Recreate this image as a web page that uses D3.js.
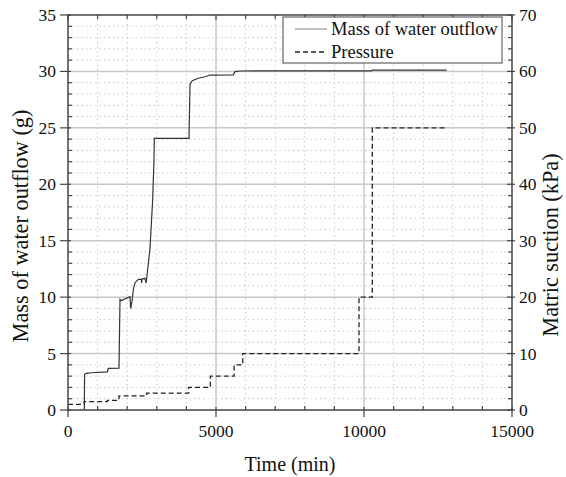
<!DOCTYPE html>
<html><head><meta charset="utf-8">
<script src="https://cdn.jsdelivr.net/npm/d3@7"></script>
<style>
body{margin:0;background:#fff;}
text{font-family:"Liberation Serif","Times New Roman",serif;fill:#111;}
</style></head>
<body><svg id="c" width="566" height="477"></svg>
<script>
const massTime  = [551,560,620,800,1330,1361,1723,1757,1800,2095,2117,2162,2207,2264,2376,2480,2490,2500,2600,2640,2660,2714,2770,2860,2905,2916,4088,4122,4200,4403,4628,4797,5585,5642,5811,6486,10250,10280,12790];
const massValue = [0,3.16,3.25,3.3,3.37,3.69,3.7,9.8,9.7,10.04,9.0,9.6,10.7,11.28,11.58,11.6,11.25,11.6,11.67,11.25,11.7,13.0,14.3,18.6,22.2,24.07,24.07,28.9,29.18,29.4,29.53,29.68,29.7,29.98,30.04,30.05,30.05,30.12,30.12];
const pressureTime  = [0,551,1330,1723,2657,4075,4810,5612,5905,9831,10280,12790];
const pressureValue = [1,1.5,1.7,2.5,3,4,6,8,10,20,50,50];
const xTicks = [0,5000,10000,15000];
const yLeftTicks = [0,5,10,15,20,25,30,35];
const yRightTicks = [0,10,20,30,40,50,60,70];
const legendLabels = ["Mass of water outflow","Pressure"];

const svg = d3.select("#c");
const L=68, R=512, T=15, B=410;
const x = d3.scaleLinear().domain([0,15000]).range([L,R]);
const yL = d3.scaleLinear().domain([0,35]).range([B,T]);
const yR = d3.scaleLinear().domain([0,70]).range([B,T]);

const gridCol="#c8c8c8";
const g = svg.append("g");
d3.range(1000,15000,1000).filter(v=>v%5000!==0).forEach(v=>{
  g.append("line").attr("x1",x(v)).attr("x2",x(v)).attr("y1",T).attr("y2",B)
   .attr("stroke",gridCol).attr("stroke-width",1).attr("stroke-dasharray","1.5,3");
});
d3.range(1,35,1).filter(v=>v%5!==0).forEach(v=>{
  g.append("line").attr("y1",yL(v)).attr("y2",yL(v)).attr("x1",L).attr("x2",R)
   .attr("stroke",gridCol).attr("stroke-width",1).attr("stroke-dasharray","1.5,3");
});
xTicks.slice(1,-1).forEach(v=>{
  g.append("line").attr("x1",x(v)).attr("x2",x(v)).attr("y1",T).attr("y2",B)
   .attr("stroke",gridCol).attr("stroke-width",1.5);
});
yLeftTicks.slice(1,-1).forEach(v=>{
  g.append("line").attr("y1",yL(v)).attr("y2",yL(v)).attr("x1",L).attr("x2",R)
   .attr("stroke",gridCol).attr("stroke-width",1.5);
});

const massData = massTime.map((t,i)=>[t,massValue[i]]);
const presData = pressureTime.map((t,i)=>[t,pressureValue[i]]);
svg.append("path").datum(massData)
  .attr("d",d3.line().x(d=>x(d[0])).y(d=>yL(d[1])))
  .attr("fill","none").attr("stroke","#333").attr("stroke-width",1.2);
svg.append("path").datum(presData)
  .attr("d",d3.line().curve(d3.curveStepAfter).x(d=>x(d[0])).y(d=>yR(d[1])))
  .attr("fill","none").attr("stroke","#222").attr("stroke-width",1.3).attr("stroke-dasharray","5,3");

const axCol="#444";
const fr = svg.append("g");
fr.append("rect").attr("x",L).attr("y",T).attr("width",R-L).attr("height",B-T)
  .attr("fill","none").attr("stroke",axCol).attr("stroke-width",1.5);
function tick(x1,y1,x2,y2){fr.append("line").attr("x1",x1).attr("y1",y1).attr("x2",x2).attr("y2",y2).attr("stroke",axCol).attr("stroke-width",1.2);}
d3.range(0,15001,1000).forEach(v=>{
  const px=x(v);
  if(v%5000===0){ tick(px,B-3,px,B+7); tick(px,T,px,T+5);} else { tick(px,B,px,B-4); tick(px,T,px,T+4);}
});
d3.range(0,35.01,1).forEach(v=>{
  const py=yL(v);
  if(v%5===0){ tick(L-8,py,L+3,py); tick(R-5,py,R+3,py);} else { tick(L,py,L+4,py); tick(R,py,R-4,py);}
});
svg.append("g").selectAll("text").data(xTicks).join("text")
  .attr("x",d=>x(d)).attr("y",437).attr("text-anchor","middle").attr("font-size",17.5).text(d=>d);
svg.append("g").selectAll("text").data(yLeftTicks).join("text")
  .attr("x",56).attr("y",d=>yL(d)+6).attr("text-anchor","end").attr("font-size",17.5).text(d=>d);
svg.append("g").selectAll("text").data(yRightTicks).join("text")
  .attr("x",R+7).attr("y",d=>yR(d)+6).attr("text-anchor","start").attr("font-size",17.5).text(d=>d);
svg.append("text").attr("x",(L+R)/2).attr("y",471).attr("text-anchor","middle").attr("font-size",20).text("Time (min)");
svg.append("text").attr("transform",`translate(28,226) rotate(-90)`).attr("text-anchor","middle").attr("font-size",22.3).text("Mass of water outflow (g)");
svg.append("text").attr("transform",`translate(558,245) rotate(-90)`).attr("text-anchor","middle").attr("font-size",22.3).text("Matric suction (kPa)");

const lg = svg.append("g");
lg.append("rect").attr("x",283).attr("y",17).attr("width",219).attr("height",46)
  .attr("fill","#fff").attr("stroke",axCol).attr("stroke-width",1);
lg.append("line").attr("x1",295).attr("x2",327).attr("y1",29).attr("y2",29).attr("stroke","#999").attr("stroke-width",1.2);
lg.append("line").attr("x1",295).attr("x2",327).attr("y1",52).attr("y2",52).attr("stroke","#222").attr("stroke-width",1.3).attr("stroke-dasharray","5,3");
lg.selectAll("text.l").data(legendLabels).join("text").attr("class","l")
  .attr("x",331).attr("y",(d,i)=>35+i*23).attr("font-size",18.5).text(d=>d);
</script></body></html>
